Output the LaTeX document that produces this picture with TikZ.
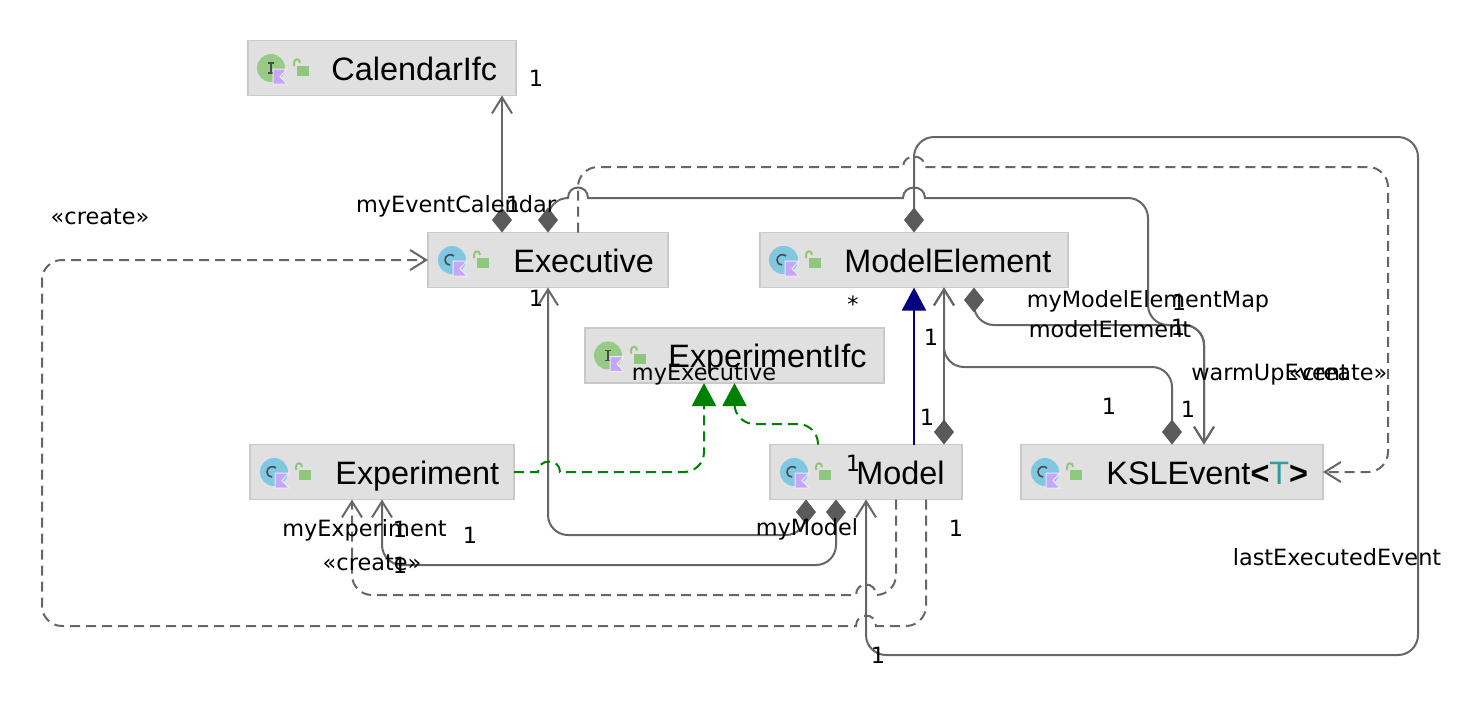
\documentclass[tikz,border=0pt]{standalone}
\usepackage{fontspec}
\setmainfont{Liberation Sans}
\newfontfamily\labelfont{DejaVu Sans}
\usepackage{xcolor}
\usetikzlibrary{arrows.meta}
\usetikzlibrary{positioning}
\definecolor{boxfill}{HTML}{E0E0E0}
\definecolor{boxline}{HTML}{C9C9C9}
\definecolor{linegray}{HTML}{666666}
\definecolor{tipgray}{HTML}{5A5A5A}
\definecolor{classblue}{HTML}{7FC8E2}
\definecolor{ifcgreen}{HTML}{97CB85}
\definecolor{lockgreen}{HTML}{8DC87B}
\definecolor{flagpurple}{HTML}{C4A7FA}
\definecolor{abstractgray}{HTML}{A9B7BF}
\definecolor{extendblue}{HTML}{000080}
\definecolor{implgreen}{HTML}{008000}
\definecolor{paramteal}{HTML}{2E9C9C}
\tikzset{
  umlbox/.style={fill=boxfill,draw=boxline,line width=0.6pt,minimum height=27.5pt,inner sep=0pt,outer sep=0pt},
  umlname/.style={font=\fontsize{16.2}{18}\selectfont,inner sep=0pt,text height=12pt,text depth=0pt},
  umllabel/.style={font=\labelfont\fontsize{11.2}{13}\selectfont,inner sep=0pt,anchor=base},
  round/.style={rounded corners=10pt},
  assoc/.style={draw=linegray,line width=1pt,round},
  dep/.style={assoc,dash pattern=on 5pt off 3pt},
  openend/.style={-{Straight Barb[length=8pt,width=10pt,line width=1pt]}},
  compend/.style={{Diamond[length=12.5pt,width=10pt,fill=tipgray,color=tipgray]}-{Straight Barb[length=8pt,width=10pt,line width=1pt]}},
  extend/.style={draw=extendblue,line width=1pt,-{Triangle[length=11.5pt,width=12pt,fill=extendblue,color=extendblue]}},
  impl/.style={draw=implgreen,line width=1pt,round,dash pattern=on 5pt off 3pt,-{Triangle[length=11.5pt,width=12pt,fill=implgreen,color=implgreen]}}
}
\newcommand{\iconparts}{
  \fill[flagpurple,draw=white!75!flagpurple,line width=0.5pt] (25,1) -- (39,1) -- (32,8.5) -- (39,16) -- (25,16) -- cycle;
  \fill[lockgreen] (49,-2) rectangle (61,8);
  \draw[lockgreen,line width=1pt] (46,-2) -- (46,-5) .. controls (46,-10) and (52,-10) .. (52,-5);
}
\newcommand{\classicon}[1]{
  \begin{scope}[shift={(#1.west)}]
    \fill[classblue] (24,0) circle[radius=7pt];
    \draw[black!70,line width=0.8pt] (26,-4) .. controls (23,-7) and (17,-5) .. (17,0) .. controls (17,3) and (19,5) .. (22,5);
    \iconparts
  \end{scope}
}
\newcommand{\ifcicon}[1]{
  \begin{scope}[shift={(#1.west)}]
    \fill[ifcgreen] (23,0) circle[radius=7pt];
    \draw[black!70,line width=0.7pt] (20,-5) -- (26,-5) (23,-5) -- (23,5) (20,5) -- (26,5);
    \iconparts
  \end{scope}
}
\begin{document}
\begin{tikzpicture}[x=0.5pt,y=-0.5pt]
\useasboundingbox (0,0) rectangle (1484,714);

\node (cal) at (382,68) [umlbox,minimum width=134pt] {};
\node (exec) at (548,260) [umlbox,minimum width=120pt] {};
\node (melem) at (914,260) [umlbox,minimum width=154pt] {};
\node (expifc) at (734.5,355.5) [umlbox,minimum width=149.5pt] {};
\node (expt) at (382,472) [umlbox,minimum width=132pt] {};
\node (model) at (866,472) [umlbox,minimum width=96pt] {};
\node (ksl) at (1172,472) [umlbox,minimum width=151pt] {};

\node (caltext) [umlname,right=41.5pt of cal.west] {CalendarIfc};
\node (exectext) [umlname,right=42.5pt of exec.west] {Executive};
\node (melemtext) [umlname,right=42pt of melem.west] {ModelElement};
\node (expifctext) [umlname,right=41.5pt of expifc.west] {ExperimentIfc};
\node (expttext) [umlname,right=42.5pt of expt.west] {Experiment};
\node (modeltext) [umlname,right=43pt of model.west] {Model};
\node (ksltext) [umlname,right=42.5pt of ksl.west] {KSLEvent{\bfseries <}{\color{paramteal}T}{\bfseries >}};

\ifcicon{cal}
\ifcicon{expifc}
\classicon{exec}
\fill[abstractgray] ([xshift=11.5pt]melem.west) circle[radius=7pt];
\classicon{melem}
\classicon{expt}
\classicon{model}
\classicon{ksl}

\draw[assoc,compend] ([xshift=-23pt]exec.north) to[] ([xshift=60pt]cal.south);
\draw[assoc,compend] (exec.north) -- (548,198) [sharp corners] -- (568,198) .. controls (568,184) and (588,184) .. (588,198) -- (903,198) .. controls (903,184) and (925,184) .. (925,198) [round] -- (1148,198) -- (1148,325) -- (1204,325) -- ([xshift=16pt]ksl.north);
\draw[dep,openend] ([xshift=15pt]exec.north) -- (578,167) [sharp corners] -- (903,167) .. controls (903,153) and (925,153) .. (925,167) [round] -- (1388,167) -- (1388,472) -- (ksl.east);
\draw[assoc,compend] (melem.north) -- (914,137) -- (1418,137) -- (1418,655) -- (866,655) -- (model.south);
\draw[extend] ([xshift=24pt]model.north) to[] (melem.south);
\draw[assoc,compend] ([xshift=39pt]model.north) to[] ([xshift=15pt]melem.south);
\draw[assoc,compend] (ksl.north) -- (1172,367) -- (944,367) -- ([xshift=15pt]melem.south);
\draw[assoc,compend] ([xshift=30pt]melem.south) -- (974,325) -- (1204,325) -- ([xshift=16pt]ksl.north);
\draw[assoc,compend] ([xshift=-30pt]model.south) -- (806,535) -- (548,535) -- (exec.south);
\draw[assoc,compend] ([xshift=-15pt]model.south) -- (836,565) -- (382,565) -- (expt.south);
\draw[dep,openend] ([xshift=15pt]model.south) -- (896,595) [sharp corners] -- (876,595) .. controls (876,581) and (856,581) .. (856,595) [round] -- (352,595) -- ([xshift=-15pt]expt.south);
\draw[dep,openend] ([xshift=30pt]model.south) -- (926,626) [sharp corners] -- (876,626) .. controls (876,612) and (856,612) .. (856,626) [round] -- (42,626) -- (42,260) -- (exec.west);
\draw[impl] (expt.east) [sharp corners] -- (538,472) .. controls (538,458) and (560,458) .. (560,472) [round] -- (704,472) -- ([xshift=-15.25pt]expifc.south);
\draw[impl] ([xshift=-24pt]model.north) -- (818,424) -- (734.5,424) -- (expifc.south);

\node (lblcal) at (536,86) [umllabel] {1};
\node (lblevtcal) at (456,212) [umllabel] {myEventCalendar};
\node (lblevtone) at (513,212) [umllabel] {1};
\node (lblcreateexec) at (100,224) [umllabel] {«create»};
\node (lblexecone) at (536,306) [umllabel] {1};
\node (lblstar) at (853,312) [umllabel] {*};
\node (lblmelemone) at (931,345) [umllabel] {1};
\node (lblmap) at (1148,307) [umllabel] {myModelElementMap};
\node (lblmapone) at (1179,310) [umllabel] {1};
\node (lblmelemtwo) at (1178,335) [umllabel] {1};
\node (lblmelemname) at (1110,337) [umllabel] {modelElement};
\node (lblwarm) at (1270,380) [umllabel] {warmUpEvent};
\node (lblcreateksl) at (1338,380) [umllabel] {«create»};
\node (lblkslone) at (1109,414) [umllabel] {1};
\node (lblksltwo) at (1188,417) [umllabel] {1};
\node (lblmodelone) at (927,425) [umllabel] {1};
\node (lblexec) at (704,380) [umllabel] {myExecutive};
\node (lblmodeltwo) at (853,471) [umllabel] {1};
\node (lblexpt) at (364.5,536) [umllabel] {myExperiment};
\node (lblexptone) at (400,537) [umllabel] {1};
\node (lblexpttwo) at (470,543) [umllabel] {1};
\node (lblcreateexpt) at (372,570) [umllabel] {«create»};
\node (lblexptthree) at (400,573) [umllabel] {1};
\node (lblmodel) at (807,535) [umllabel] {myModel};
\node (lblmodelthree) at (956,536) [umllabel] {1};
\node (lbllast) at (1337,565) [umllabel] {lastExecutedEvent};
\node (lbllastone) at (878,663) [umllabel] {1};
\end{tikzpicture}
\end{document}
